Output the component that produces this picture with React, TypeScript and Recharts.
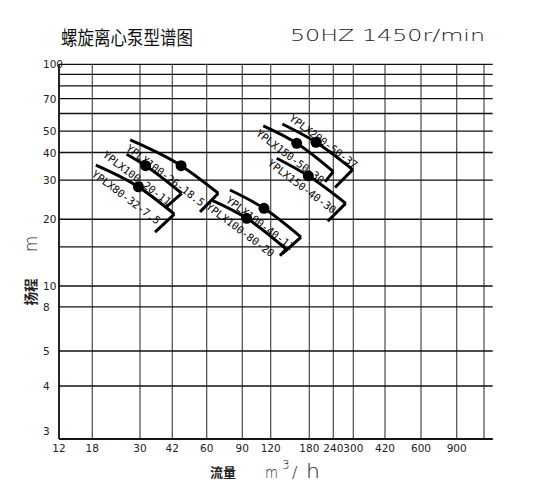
import React from 'react';
import { ComposedChart, Line, Scatter, XAxis, YAxis, ReferenceLine } from 'recharts';

// ---------- axis ticks ----------
const flowTicks = [12, 18, 30, 42, 60, 90, 120, 180, 240, 300, 420, 600, 900, 1200];
const flowTickLabels = ['12', '18', '30', '42', '60', '90', '120', '180', '240', '300', '420', '600', '900', ''];
const headTicks = [3, 4, 5, 8, 10, 15, 20, 30, 40, 50, 60, 70, 80, 90, 100];
const headTickLabels = ['3', '4', '5', '8', '10', '', '20', '30', '40', '50', '', '70', '', '', '100'];

// ---------- pump curves (Q m3/h, H m) ----------
const curve80_32_75 = [{ q: 18.7, h: 35.1 }, { q: 29.5, h: 28.0 }, { q: 42.9, h: 21.1 }];
const cut80_32_75 = [{ q: 42.9, h: 21.1 }, { q: 35.1, h: 17.5 }];

const curve100_20_11 = [{ q: 26.0, h: 39.3 }, { q: 31.8, h: 34.9 }, { q: 46.3, h: 26.2 }];
const cut100_20_11 = [{ q: 46.3, h: 26.2 }, { q: 39.6, h: 22.8 }];

const curve100_26_185 = [{ q: 27.0, h: 45.6 }, { q: 46.0, h: 34.9 }, { q: 68.5, h: 26.2 }];
const cut100_26_185 = [{ q: 68.5, h: 26.2 }, { q: 56.0, h: 21.6 }];

const curve100_40_11 = [{ q: 78.2, h: 27.1 }, { q: 112.1, h: 22.4 }, { q: 165, h: 16.6 }];
const cut100_40_11 = [{ q: 165, h: 16.6 }, { q: 135.8, h: 14.0 }];

const curve100_80_20 = [{ q: 63.5, h: 24.4 }, { q: 94.1, h: 20.2 }, { q: 140.9, h: 14.7 }];
const cut100_80_20 = [{ q: 140.9, h: 14.7 }, { q: 132.3, h: 13.7 }];

const curve150_50_30 = [{ q: 111.3, h: 52.7 }, { q: 157.7, h: 44.0 }, { q: 240, h: 32.8 }];
const cut150_50_30 = [{ q: 240, h: 32.8 }, { q: 217.3, h: 29.5 }];

const curve200_50_37 = [{ q: 135.6, h: 53.8 }, { q: 195, h: 44.5 }, { q: 298, h: 33.5 }];
const cut200_50_37 = [{ q: 298, h: 33.5 }, { q: 244.6, h: 27.8 }];

const curve150_40_30 = [{ q: 127.8, h: 37.7 }, { q: 178.1, h: 31.4 }, { q: 275.6, h: 23.6 }];
const cut150_40_30 = [{ q: 275.6, h: 23.6 }, { q: 224.4, h: 19.6 }];

const dutyPoints = [
  { q: 29.5, h: 28.0 },
  { q: 31.8, h: 34.9 },
  { q: 46.0, h: 34.9 },
  { q: 112.1, h: 22.4 },
  { q: 94.1, h: 20.2 },
  { q: 157.7, h: 44.0 },
  { q: 195, h: 44.5 },
  { q: 178.1, h: 31.4 },
];

const modelLabels = [
  { q: 18.7, h: 33.7, text: 'YPLX80-32-7.5' },
  { q: 21.0, h: 41.1, text: 'YPLX100-20-11' },
  { q: 27.0, h: 44.0, text: 'YPLX100-26-18.5' },
  { q: 78.2, h: 25.7, text: 'YPLX100-40-11' },
  { q: 62.3, h: 24.0, text: 'YPLX100-80-20' },
  { q: 107.7, h: 51.4, text: 'YPLX150-50-30' },
  { q: 152.2, h: 60.1, text: 'YPLX200-50-37' },
  { q: 121.3, h: 37.7, text: 'YPLX150-40-30' },
];

const curves = [curve80_32_75, curve100_20_11, curve100_26_185, curve100_40_11, curve100_80_20, curve150_50_30, curve200_50_37, curve150_40_30];
const cuts = [cut80_32_75, cut100_20_11, cut100_26_185, cut100_40_11, cut100_80_20, cut150_50_30, cut200_50_37, cut150_40_30];

// ---------- chart-paper calibration (piecewise log scale) ----------
const W = 548;
const H = 487;
const PLOT = { left: 59, top: 64.3, right: 492.7, bottom: 439 };
const X_STOPS: [number, number][] = [
  [12, 59], [18, 92.3], [30, 140], [42, 172.3], [60, 206.7], [90, 242.3], [120, 270.7],
  [180, 309.3], [240, 333.3], [300, 353.3], [420, 385], [600, 421], [900, 456.7], [1200, 484], [1320, 492.7],
];
const Y_STOPS: [number, number][] = [[3, 439], [4, 386], [5, 351], [10, 286], [100, 64.3]];

function pwLogScale(ctrl: [number, number][], tickVals: number[]): any {
  let dom: number[] = [ctrl[0][0], ctrl[ctrl.length - 1][0]];
  let rng: number[] = [0, 1];
  const frac = (v: number) => {
    if (!(v > 0)) return NaN;
    let i = 0;
    while (i < ctrl.length - 2 && v > ctrl[i + 1][0]) i++;
    const [v0, f0] = ctrl[i];
    const [v1, f1] = ctrl[i + 1];
    const t = Math.log(v / v0) / Math.log(v1 / v0);
    return f0 + t * (f1 - f0);
  };
  const s: any = (v: number) => rng[0] + frac(Number(v)) * (rng[1] - rng[0]);
  s.domain = (d?: number[]) => {
    if (d === undefined) return dom.slice();
    dom = d.slice();
    return s;
  };
  s.range = (r?: number[]) => {
    if (r === undefined) return rng.slice();
    rng = r.slice();
    return s;
  };
  s.copy = () => pwLogScale(ctrl, tickVals).domain(dom).range(rng);
  s.ticks = () => tickVals.slice();
  s.tickFormat = () => (v: number) => String(v);
  return s;
}

const xFrac: [number, number][] = X_STOPS.map(([v, p]) => [v, (p - PLOT.left) / (PLOT.right - PLOT.left)]);
const yFrac: [number, number][] = Y_STOPS.map(([v, p]) => [v, (PLOT.bottom - p) / (PLOT.bottom - PLOT.top)]);
const xScale = pwLogScale(xFrac, flowTicks);
const yScale = pwLogScale(yFrac, headTicks);

const LABEL_FONT = '"DejaVu Sans", sans-serif';
const MONO_FONT = '"DejaVu Sans Mono", monospace';
const CJK_FONT = '"Noto Sans CJK SC", sans-serif';

const XTick = (props: any) => {
  const { x, y, payload } = props;
  const i = flowTicks.indexOf(payload.value);
  const label = i >= 0 ? flowTickLabels[i] : '';
  if (!label) return <g />;
  return (
    <text x={x} y={y + 9} textAnchor="middle" dominantBaseline="central" fontSize={10.5} fontFamily={LABEL_FONT} fill="#222">
      {label}
    </text>
  );
};

const YTick = (props: any) => {
  const { x, y, payload } = props;
  const i = headTicks.indexOf(payload.value);
  const label = i >= 0 ? headTickLabels[i] : '';
  if (!label) return <g />;
  const isBottom = i === 0;
  return (
    <text
      x={x - 14}
      y={isBottom ? y - 8 : y}
      textAnchor="start"
      dominantBaseline="central"
      fontSize={10.5}
      fontFamily={LABEL_FONT}
      fill="#222"
    >
      {label}
    </text>
  );
};

const DutyDot = (props: any) => <circle cx={props.cx} cy={props.cy} r={5.5} fill="#000" />;

const ModelLabel = (props: any) => {
  const { cx, cy, payload } = props;
  return (
    <text
      x={cx}
      y={cy}
      dominantBaseline="hanging"
      fontSize={10.5}
      fontFamily={MONO_FONT}
      fill="#000"
      transform={`rotate(37 ${cx} ${cy})`}
    >
      {payload && payload.text}
    </text>
  );
};

export default function App() {
  return (
    <div style={{ position: 'absolute', left: 0, top: 0, width: W, height: H, background: '#fff' }}>
      <ComposedChart width={W} height={H} margin={{ top: PLOT.top, right: W - PLOT.right, bottom: 0, left: 0 }}>
        <XAxis
          type="number"
          dataKey="q"
          scale={xScale}
          domain={[12, 1320]}
          ticks={flowTicks}
          allowDataOverflow
          height={H - PLOT.bottom}
          tickLine={false}
          tickSize={0}
          tickMargin={0}
          axisLine={{ stroke: '#000', strokeWidth: 1.5 }}
          tick={<XTick />}
          interval={0}
        />
        <YAxis
          type="number"
          dataKey="h"
          scale={yScale}
          domain={[3, 100]}
          ticks={headTicks}
          allowDataOverflow
          width={PLOT.left}
          tickLine={false}
          tickSize={0}
          tickMargin={2}
          axisLine={{ stroke: '#000', strokeWidth: 1.5 }}
          tick={<YTick />}
          interval={0}
        />
        {flowTicks.map((v) => (
          <ReferenceLine key={`vx${v}`} x={v} stroke="#4a4a4a" strokeWidth={1.2} />
        ))}
        {headTicks.map((v) => (
          <ReferenceLine key={`hy${v}`} y={v} stroke="#111" strokeWidth={1.3} />
        ))}
        {curves.map((d, i) => (
          <Line
            key={`c${i}`}
            data={d}
            dataKey="h"
            type="monotoneX"
            stroke="#000"
            strokeWidth={3}
            dot={false}
            activeDot={false}
            isAnimationActive={false}
          />
        ))}
        {cuts.map((d, i) => (
          <Line
            key={`k${i}`}
            data={d}
            dataKey="h"
            type="linear"
            stroke="#000"
            strokeWidth={3}
            dot={false}
            activeDot={false}
            isAnimationActive={false}
          />
        ))}
        <Scatter data={dutyPoints} dataKey="h" shape={<DutyDot />} isAnimationActive={false} />
        <Scatter data={modelLabels} dataKey="h" shape={<ModelLabel />} isAnimationActive={false} />

        {/* titles */}
        <text x={61} y={45} fontSize={19.5} fontFamily={CJK_FONT} fill="#111" textLength={132} lengthAdjust="spacingAndGlyphs">
          螺旋离心泵型谱图
        </text>
        <text x={290} y={41} fontSize={16} fontWeight={200} fontFamily={LABEL_FONT} fill="#222" textLength={195} lengthAdjust="spacingAndGlyphs">
          50HZ 1450r/min
        </text>

        {/* y axis title */}
        <text x={31} y={244} fontSize={17} fontWeight={200} fontFamily={LABEL_FONT} fill="#222" textAnchor="middle" dominantBaseline="central" transform="rotate(-90 31 244)">
          m
        </text>
        <text x={30} y={292} fontSize={13.5} fontWeight="bold" fontFamily={CJK_FONT} fill="#222" textAnchor="middle" dominantBaseline="central" transform="rotate(-90 30 292)">
          扬程
        </text>

        {/* x axis title */}
        <text x={223} y={471} fontSize={13} fontWeight="bold" fontFamily={CJK_FONT} fill="#222" textAnchor="middle" dominantBaseline="central">
          流量
        </text>
        <text x={265} y={478} fontSize={16} fontWeight={200} fontFamily={LABEL_FONT} fill="#222" textLength={13} lengthAdjust="spacingAndGlyphs">
          m
        </text>
        <text x={282} y={469} fontSize={12} fontWeight={200} fontFamily={LABEL_FONT} fill="#222">
          3
        </text>
        <text x={292} y={478} fontSize={16} fontWeight={200} fontFamily={LABEL_FONT} fill="#222">
          /
        </text>
        <text x={306} y={478} fontSize={20} fontWeight={200} fontFamily={LABEL_FONT} fill="#222" textLength={14} lengthAdjust="spacingAndGlyphs">
          h
        </text>
      </ComposedChart>
    </div>
  );
}
